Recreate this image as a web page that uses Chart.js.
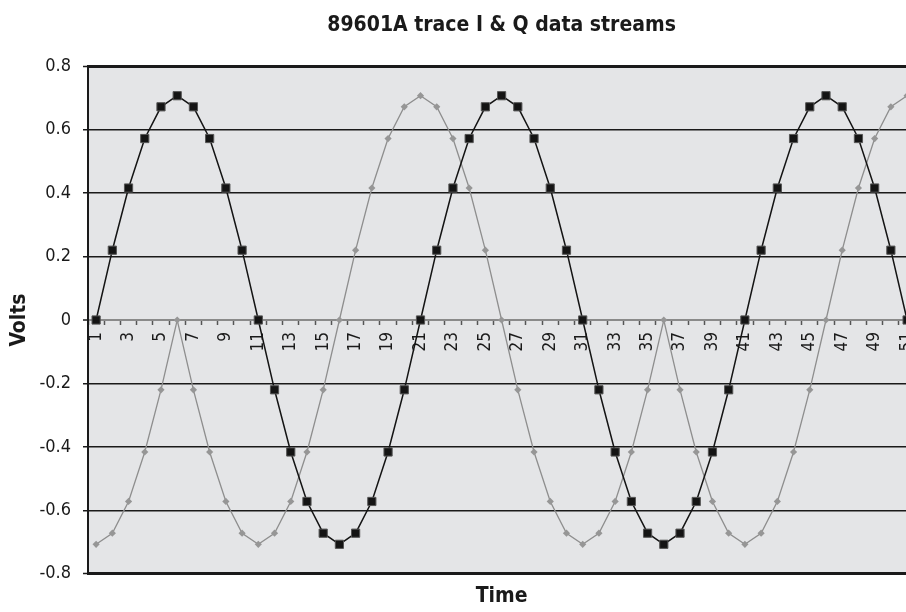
<!DOCTYPE html>
<html>
<head>
<meta charset="utf-8">
<title>89601A trace I & Q data streams</title>
<script src="https://cdn.jsdelivr.net/npm/chart.js@4.4.1/dist/chart.umd.min.js"></script>
<style>
  html, body { margin: 0; padding: 0; background: #fff; overflow: hidden; }
  #wrap { width: 906px; height: 612px; overflow: hidden; }
</style>
</head>
<body>
<div id="wrap"><canvas id="iqGraph" width="922" height="612"></canvas></div>
<script>
'use strict';

// muestras 1..51
var tiempo = [];
for (var n = 1; n <= 51; n++) { tiempo.push(String(n)); }

// canal I (negro)
var valoresI = [
  0, 0.22, 0.416, 0.572, 0.672, 0.707, 0.672, 0.572, 0.416, 0.22,
  0, -0.22, -0.416, -0.572, -0.672, -0.707, -0.672, -0.572, -0.416, -0.22,
  0, 0.22, 0.416, 0.572, 0.672, 0.707, 0.672, 0.572, 0.416, 0.22,
  0, -0.22, -0.416, -0.572, -0.672, -0.707, -0.672, -0.572, -0.416, -0.22,
  0, 0.22, 0.416, 0.572, 0.672, 0.707, 0.672, 0.572, 0.416, 0.22,
  0
];

// canal Q (gris)
var valoresQ = [
  -0.707, -0.672, -0.572, -0.416, -0.22, 0, -0.22, -0.416, -0.572, -0.672,
  -0.707, -0.672, -0.572, -0.416, -0.22, 0, 0.22, 0.416, 0.572, 0.672,
  0.707, 0.672, 0.572, 0.416, 0.22, 0, -0.22, -0.416, -0.572, -0.672,
  -0.707, -0.672, -0.572, -0.416, -0.22, 0, -0.22, -0.416, -0.572, -0.672,
  -0.707, -0.672, -0.572, -0.416, -0.22, 0, 0.22, 0.416, 0.572, 0.672,
  0.707
];

var ticksY = [-0.8, -0.6, -0.4, -0.2, 0, 0.2, 0.4, 0.6, 0.8];
var etiquetasY = ['-0.8', '-0.6', '-0.4', '-0.2', '0', '0.2', '0.4', '0.6', '0.8'];

var fuente = "'Liberation Sans Narrow', 'DejaVu Sans Condensed', 'Arial Narrow', sans-serif";

// fondo gris del area de trazado
var fondoArea = {
  id: 'fondoArea',
  beforeDraw: function (chart) {
    var a = chart.chartArea;
    var ctx = chart.ctx;
    ctx.save();
    ctx.fillStyle = '#e4e5e7';
    ctx.fillRect(a.left, a.top, a.right - a.left, a.bottom - a.top);
    ctx.restore();
  }
};

var ctx = document.getElementById('iqGraph').getContext('2d');
var myChart = new Chart(ctx, {
  type: 'line',
  data: {
    labels: tiempo,
    datasets: [{
      label: 'I',
      data: valoresI,
      borderColor: '#141414',
      borderWidth: 1.5,
      pointStyle: 'rect',
      pointRadius: 5.8,
      pointBackgroundColor: '#141414',
      pointBorderColor: '#555555',
      pointBorderWidth: 1,
      tension: 0,
      clip: false
    }, {
      label: 'Q',
      data: valoresQ,
      borderColor: '#8e8e8e',
      borderWidth: 1.3,
      pointStyle: 'rectRot',
      pointRadius: 3.6,
      pointBackgroundColor: '#969696',
      pointBorderColor: '#969696',
      pointBorderWidth: 0,
      tension: 0,
      clip: false
    }]
  },
  plugins: [fondoArea],
  options: {
    responsive: false,
    animation: false,
    layout: { padding: { left: 0, right: 0, top: 0, bottom: 0 } },
    plugins: {
      legend: { display: false },
      tooltip: { enabled: false },
      title: {
        display: true,
        text: '89601A trace I & Q data streams',
        fullSize: false,
        color: '#1a1a1a',
        font: { family: fuente, size: 21, weight: 'bold', lineHeight: 1.2 },
        padding: { top: 13, bottom: 28 }
      },
      subtitle: {
        display: true,
        position: 'bottom',
        text: 'Time',
        fullSize: false,
        color: '#1a1a1a',
        font: { family: fuente, size: 21, weight: 'bold', lineHeight: 1.2 },
        padding: { top: 10, bottom: 3 }
      }
    },
    scales: {
      x: {
        type: 'category',
        position: { y: 0 },
        offset: true,
        afterFit: function (scale) {
          // sin margen extra a los lados, el area llega al borde
          scale.paddingLeft = 0;
          scale.paddingRight = 0;
        },
        grid: {
          offset: true,
          drawOnChartArea: false,
          drawTicks: true,
          tickLength: 4,
          tickColor: '#555555',
          tickWidth: 1.5
        },
        border: { display: true, color: '#8a8a8a', width: 2 },
        ticks: {
          autoSkip: false,
          minRotation: 90,
          maxRotation: 90,
          padding: 8,
          color: '#1a1a1a',
          font: { family: fuente, size: 17 },
          callback: function (v, i) { return i % 2 === 0 ? tiempo[i] : ''; }
        }
      },
      y: {
        type: 'linear',
        position: 'left',
        min: -0.8,
        max: 0.8,
        afterBuildTicks: function (scale) {
          scale.ticks = ticksY.map(function (v) { return { value: v }; });
        },
        afterFit: function (scale) { scale.width = 88; },
        grid: {
          drawTicks: true,
          tickLength: 5,
          tickColor: '#1a1a1a',
          tickWidth: 1.5,
          color: function (c) {
            return c.tick && c.tick.value === 0 ? '#8a8a8a' : '#1a1a1a';
          },
          lineWidth: function (c) {
            if (!c.tick) { return 1.5; }
            if (c.tick.value === 0.8 || c.tick.value === -0.8) { return 3; }
            if (c.tick.value === 0) { return 2; }
            return 1.5;
          }
        },
        border: { display: true, color: '#1a1a1a', width: 2 },
        ticks: {
          padding: 12,
          color: '#1a1a1a',
          font: { family: fuente, size: 18 },
          callback: function (v, i) { return etiquetasY[i]; }
        },
        title: {
          display: true,
          text: 'Volts',
          color: '#1a1a1a',
          font: { family: fuente, size: 21, weight: 'bold', lineHeight: 1.2 },
          padding: { top: 7, bottom: 0 }
        }
      }
    }
  }
});
</script>
</body>
</html>
